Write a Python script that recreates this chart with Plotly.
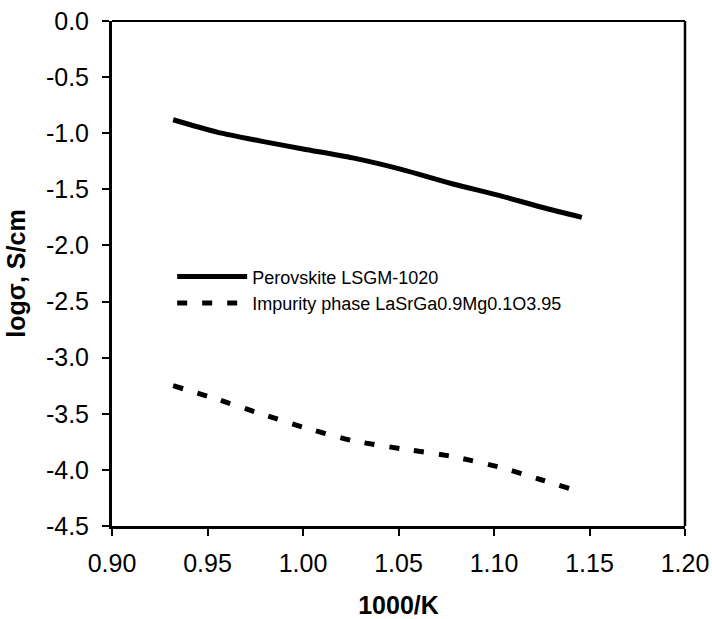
import plotly.graph_objects as go

# Inverse temperature, 1000/K
inv_temp = [0.932, 0.955, 0.978, 1.000, 1.026, 1.051, 1.078, 1.104, 1.125, 1.146]

# log conductivity, S/cm
perovskite = [-0.88, -0.99, -1.07, -1.14, -1.22, -1.32, -1.45, -1.56, -1.66, -1.75]
impurity = [-3.25, -3.37, -3.50, -3.62, -3.74, -3.81, -3.88, -3.98, -4.09, -4.20]

series_names = ["Perovskite LSGM-1020", "Impurity phase LaSrGa0.9Mg0.1O3.95"]

x_ticks = [0.90, 0.95, 1.00, 1.05, 1.10, 1.15, 1.20]
x_ticktext = ["0.90", "0.95", "1.00", "1.05", "1.10", "1.15", "1.20"]
y_ticks = [0.0, -0.5, -1.0, -1.5, -2.0, -2.5, -3.0, -3.5, -4.0, -4.5]
y_ticktext = ["0.0", "-0.5", "-1.0", "-1.5", "-2.0", "-2.5", "-3.0", "-3.5", "-4.0", "-4.5"]

FONT = "Liberation Sans, Arial, sans-serif"

fig = go.Figure()
fig.add_trace(go.Scatter(
    x=inv_temp, y=perovskite, name=series_names[0], mode="lines",
    line=dict(color="black", width=5, shape="spline", smoothing=0.8),
))
fig.add_trace(go.Scatter(
    x=inv_temp, y=impurity, name=series_names[1], mode="lines",
    line=dict(color="black", width=5, dash="10px,15px", shape="spline", smoothing=0.6),
))

axis_common = dict(
    showgrid=False, zeroline=False, showline=True, linecolor="black", linewidth=3,
    ticks="outside", ticklen=7, tickwidth=1.5, tickcolor="black",
    tickfont=dict(family=FONT, size=25, color="black"),
    automargin=False,
)

fig.update_xaxes(
    range=[0.90, 1.20], tickvals=x_ticks, ticktext=x_ticktext,
    ticklabelstandoff=6,
    title=dict(text="<b>1000/K</b>", font=dict(family=FONT, size=25, color="black"), standoff=30),
    **axis_common,
)
fig.update_yaxes(
    range=[-4.5, 0.0], tickvals=y_ticks, ticktext=y_ticktext,
    ticklabelstandoff=8,
    title=dict(text="<b>logσ, S/cm</b>", font=dict(family=FONT, size=25, color="black"), standoff=14),
    **axis_common,
)

# Thin frame on the top and right sides
fig.add_shape(type="line", xref="paper", yref="paper", x0=0, x1=1, y0=1, y1=1,
              line=dict(color="black", width=2))
fig.add_shape(type="line", xref="paper", yref="paper", x0=1, x1=1, y0=0, y1=1,
              line=dict(color="black", width=2.5))

fig.update_layout(
    width=712, height=619,
    margin=dict(l=112, r=27, t=21, b=93, autoexpand=False),
    paper_bgcolor="white", plot_bgcolor="white",
    showlegend=True,
    legend=dict(
        x=0.105, y=0.53, xanchor="left", yanchor="top",
        bgcolor="rgba(0,0,0,0)", borderwidth=0,
        font=dict(family=FONT, size=18, color="black"),
        itemwidth=70, tracegroupgap=0,
    ),
)

fig.write_html("out.html")
